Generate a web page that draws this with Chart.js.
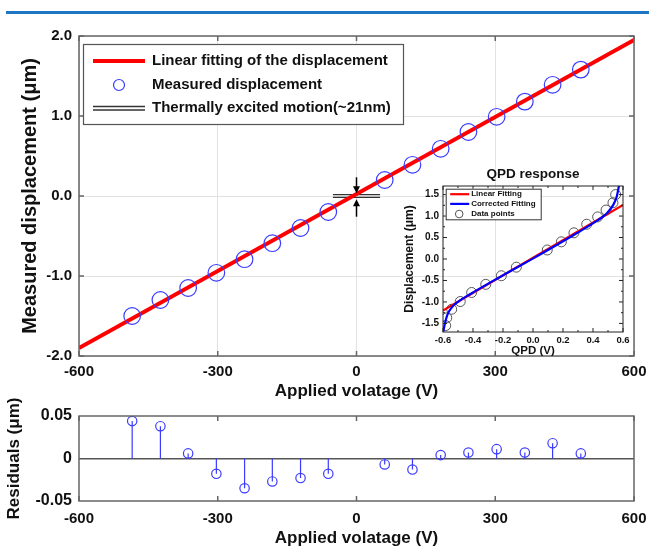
<!DOCTYPE html>
<html><head><meta charset="utf-8">
<script src="https://cdn.jsdelivr.net/npm/chart.js@4.4.1/dist/chart.umd.min.js"></script>
<style>
html,body{margin:0;padding:0;background:#fff;}
#wrap{position:relative;width:649px;height:547px;overflow:hidden;background:#fff;}
#hdr{position:absolute;left:6px;top:11px;width:643px;height:3px;background:#1f77c4;}
canvas{position:absolute;}
</style></head><body>
<div id="wrap">
<div id="hdr"></div>
<canvas id="main" width="649" height="400" style="left:0;top:0"></canvas>
<canvas id="resid" width="649" height="151" style="left:0;top:396px"></canvas>
<canvas id="inset" width="240" height="205" style="left:395px;top:160px"></canvas>
</div>
<script>
// ---------- data ----------
const voltage = [-485,-424,-364,-303,-242,-182,-121,-61,61,121,182,242,303,364,424,485];
const displacement = [-1.50,-1.30,-1.15,-0.96,-0.79,-0.59,-0.40,-0.20,0.20,0.39,0.59,0.80,0.99,1.18,1.39,1.58];
const fitVoltage = [-600, 600];
const fitDisplacement = [-1.90, 1.95];
const thermalX = [-51, 51];
const thermalLevels = [0.017, -0.017];
const arrowX = 0;
const arrowDown = [0.234, 0.034];
const arrowUp = [-0.259, -0.041];
const residuals = [0.044,0.038,0.006,-0.018,-0.035,-0.027,-0.023,-0.018,-0.007,-0.013,0.004,0.007,0.011,0.007,0.018,0.006];
const voltTicks = [-600,-300,0,300,600];
const dispTicks = [-2,-1,0,1,2];
const residTicks = [-0.05,0,0.05];
// inset
const qpdVolt = [-0.582,-0.575,-0.542,-0.485,-0.409,-0.315,-0.211,-0.111,0.095,0.189,0.273,0.358,0.431,0.487,0.533,0.551];
const qpdDisp = [-1.55,-1.37,-1.17,-0.99,-0.78,-0.59,-0.39,-0.19,0.21,0.40,0.61,0.81,0.98,1.14,1.31,1.50];
const linFitVolt = [-0.6, 0.6];
const linFitDisp = [-1.20, 1.26];
const corrVolt = [-0.598,-0.587,-0.571,-0.542,-0.498,-0.42,-0.287,0.002,0.291,0.435,0.491,0.535,0.558,0.574];
const corrDisp = [-1.69,-1.50,-1.30,-1.13,-0.99,-0.82,-0.55,0.015,0.60,0.91,1.06,1.26,1.45,1.72];
const qpdTicks = [-0.6,-0.4,-0.2,0,0.2,0.4,0.6];
const qpdMinor = [-0.5,-0.3,-0.1,0.1,0.3,0.5];
const insetDispTicks = [-1.5,-1.0,-0.5,0,0.5,1.0,1.5];
const insetDispMinor = [-1.25,-0.75,-0.25,0.25,0.75,1.25];

const FAM = "Arial, 'Liberation Sans', Helvetica, sans-serif";
const BLUE = '#3b3bff';
const pts = (xs, ys) => xs.map((v,i)=>({x:v, y:ys[i]}));

// ---------- plugins ----------
const framePlugin = {
  id:'frame',
  afterDatasetsDraw(chart, args, o){
    const {ctx, chartArea:a, scales:{x,y}} = chart;
    ctx.save();
    ctx.strokeStyle = o.color; ctx.lineWidth = o.width;
    const tick = (xv, yv, len) => {
      ctx.beginPath();
      (xv||[]).forEach(v=>{const p=x.getPixelForValue(v);
        ctx.moveTo(p,a.bottom); ctx.lineTo(p,a.bottom-len);
        ctx.moveTo(p,a.top); ctx.lineTo(p,a.top+len);});
      (yv||[]).forEach(v=>{const p=y.getPixelForValue(v);
        ctx.moveTo(a.left,p); ctx.lineTo(a.left+len,p);
        ctx.moveTo(a.right,p); ctx.lineTo(a.right-len,p);});
      ctx.stroke();
    };
    tick(o.xMajor, o.yMajor, o.len);
    if (o.xMinor || o.yMinor) tick(o.xMinor, o.yMinor, o.minorLen);
    ctx.strokeRect(a.left, a.top, a.right-a.left, a.bottom-a.top);
    ctx.restore();
  }
};

const mainDecor = {
  id:'mainDecor',
  afterDatasetsDraw(chart){
    const {ctx, scales:{x,y}} = chart;
    ctx.save();
    // arrows
    ctx.strokeStyle='#000'; ctx.fillStyle='#000'; ctx.lineWidth=1.5;
    const ax = x.getPixelForValue(arrowX);
    const arrow = (from, to) => {
      const y0 = y.getPixelForValue(from), y1 = y.getPixelForValue(to);
      const d = Math.sign(y1-y0);
      ctx.beginPath(); ctx.moveTo(ax,y0); ctx.lineTo(ax,y1-d*4); ctx.stroke();
      ctx.beginPath(); ctx.moveTo(ax,y1); ctx.lineTo(ax-3.5,y1-d*7); ctx.lineTo(ax+3.5,y1-d*7); ctx.closePath(); ctx.fill();
    };
    arrow(arrowDown[0], arrowDown[1]);
    arrow(arrowUp[0], arrowUp[1]);
    // legend
    ctx.fillStyle='#fff'; ctx.fillRect(83,44,320,80);
    ctx.strokeStyle='#555'; ctx.lineWidth=1.2; ctx.strokeRect(83.5,44.5,320,80);
    ctx.strokeStyle='#ff0000'; ctx.lineWidth=4;
    ctx.beginPath(); ctx.moveTo(93,61); ctx.lineTo(145,61); ctx.stroke();
    ctx.strokeStyle=BLUE; ctx.lineWidth=1.2;
    ctx.beginPath(); ctx.arc(119,85,5.5,0,Math.PI*2); ctx.stroke();
    ctx.strokeStyle='#333'; ctx.lineWidth=1.4;
    ctx.beginPath(); ctx.moveTo(93,106.5); ctx.lineTo(145,106.5); ctx.moveTo(93,110); ctx.lineTo(145,110); ctx.stroke();
    ctx.fillStyle='#111'; ctx.font='bold 15px '+FAM; ctx.textBaseline='middle'; ctx.textAlign='left';
    ctx.fillText('Linear fitting of the displacement',152,61);
    ctx.fillText('Measured displacement',152,85);
    ctx.fillText('Thermally excited motion(~21nm)',152,108);
    ctx.restore();
  }
};

const insetDecor = {
  id:'insetDecor',
  afterDraw(chart){
    const {ctx, chartArea:a} = chart;
    ctx.save();
    ctx.fillStyle='#111'; ctx.font='bold 13.5px '+FAM; ctx.textAlign='center'; ctx.textBaseline='middle';
    ctx.fillText('QPD response', (a.left+a.right)/2, a.top-12);
    const L = a.left+2.7, T = a.top+2.7;
    ctx.fillStyle='#fff'; ctx.fillRect(L,T,95,30.6);
    ctx.strokeStyle='#333'; ctx.lineWidth=1; ctx.strokeRect(L+0.5,T+0.5,95,30.6);
    ctx.lineWidth=2.2;
    ctx.strokeStyle='#ff0000'; ctx.beginPath(); ctx.moveTo(L+4.5,T+5.5); ctx.lineTo(L+23.5,T+5.5); ctx.stroke();
    ctx.strokeStyle='#0000ff'; ctx.beginPath(); ctx.moveTo(L+4.5,T+15.2); ctx.lineTo(L+23.5,T+15.2); ctx.stroke();
    ctx.strokeStyle='#555'; ctx.lineWidth=1; ctx.beginPath(); ctx.arc(L+13.5,T+25.3,3.8,0,Math.PI*2); ctx.stroke();
    ctx.fillStyle='#111'; ctx.font='bold 8px '+FAM; ctx.textAlign='left';
    ctx.fillText('Linear Fitting', L+25.5, T+5.5);
    ctx.fillText('Corrected Fitting', L+25.5, T+15.2);
    ctx.fillText('Data points', L+25.5, T+25.3);
    ctx.restore();
  }
};

const setTicks = arr => s => { s.ticks = arr.map(v=>({value:v})); };
const fitX = h => s => { s.height = h; s.paddingLeft = 0; s.paddingRight = 0; };
const noInteract = {responsive:false, animation:false, events:[]};

// ---------- main chart ----------
new Chart(document.getElementById('main'), {
  type:'scatter',
  data:{datasets:[
    {label:'Measured displacement', data: pts(voltage, displacement), pointRadius:8.3, pointBorderColor:BLUE, pointBackgroundColor:'rgba(0,0,0,0)', pointBorderWidth:1.2, showLine:false},
    {type:'line', label:'Linear fitting of the displacement', data: pts(fitVoltage, fitDisplacement), borderColor:'#ff0000', borderWidth:4, pointRadius:0, fill:false},
    {type:'line', label:'Thermal upper', data: thermalX.map(v=>({x:v,y:thermalLevels[0]})), borderColor:'#333', borderWidth:1.4, pointRadius:0, fill:false},
    {type:'line', label:'Thermal lower', data: thermalX.map(v=>({x:v,y:thermalLevels[1]})), borderColor:'#333', borderWidth:1.4, pointRadius:0, fill:false}
  ]},
  options:{...noInteract,
    layout:{padding:{left:0,right:15,top:36,bottom:0}},
    plugins:{legend:{display:false}, tooltip:{enabled:false},
      frame:{color:'#666', width:1.5, xMajor:voltTicks, yMajor:dispTicks, len:5}},
    scales:{
      x:{type:'linear', min:-600, max:600, afterBuildTicks:setTicks(voltTicks), afterFit:fitX(44),
         grid:{color:'#e2e2e2', lineWidth:1, drawTicks:false}, border:{display:false},
         ticks:{color:'#111', padding:7, maxRotation:0, autoSkip:false, font:{family:FAM, size:15, weight:'bold'}},
         title:{display:true, text:'Applied volatage (V)', color:'#111', padding:{top:0,bottom:0}, font:{family:FAM, size:17, weight:'bold', lineHeight:1}}},
      y:{type:'linear', min:-2, max:2, afterBuildTicks:setTicks(dispTicks), afterFit:s=>{s.width=79;},
         grid:{color:'#e2e2e2', lineWidth:1, drawTicks:false}, border:{display:false},
         ticks:{color:'#111', padding:7, autoSkip:false, font:{family:FAM, size:15, weight:'bold'}, callback:v=>v.toFixed(1)},
         title:{display:true, text:'Measured displacement (μm)', color:'#111', padding:{top:18,bottom:0}, font:{family:FAM, size:20, weight:'bold', lineHeight:1.2}}}
    }
  },
  plugins:[framePlugin, mainDecor]
});

// ---------- residual chart ----------
const stemData = [];
voltage.forEach((v,i)=>{ stemData.push({x:v,y:0},{x:v,y:residuals[i]},{x:v,y:null}); });
new Chart(document.getElementById('resid'), {
  type:'scatter',
  data:{datasets:[
    {label:'Residuals', data: pts(voltage, residuals), pointRadius:4.7, pointBorderColor:BLUE, pointBackgroundColor:'rgba(0,0,0,0)', pointBorderWidth:1.2, showLine:false},
    {type:'line', label:'stems', data: stemData, borderColor:BLUE, borderWidth:1.2, pointRadius:0, spanGaps:false, fill:false}
  ]},
  options:{...noInteract,
    layout:{padding:{left:0,right:15,top:20,bottom:0}},
    plugins:{legend:{display:false}, tooltip:{enabled:false},
      frame:{color:'#666', width:1.5, xMajor:voltTicks, yMajor:[], len:5}},
    scales:{
      x:{type:'linear', min:-600, max:600, afterBuildTicks:setTicks(voltTicks), afterFit:fitX(46),
         grid:{display:false, drawTicks:false}, border:{display:false},
         ticks:{color:'#111', padding:9, maxRotation:0, autoSkip:false, font:{family:FAM, size:15, weight:'bold'}},
         title:{display:true, text:'Applied volatage (V)', color:'#111', padding:{top:0,bottom:0.5}, font:{family:FAM, size:17, weight:'bold', lineHeight:1}}},
      y:{type:'linear', min:-0.05, max:0.05, afterBuildTicks:setTicks(residTicks), afterFit:s=>{s.width=79;},
         grid:{color:ctx=>ctx.tick && ctx.tick.value===0 ? '#555' : 'rgba(0,0,0,0)', lineWidth:1.5, drawTicks:false}, border:{display:false},
         ticks:{color:'#111', padding:7, autoSkip:false, font:{family:FAM, size:16, weight:'bold'}, callback:v=>v===0?'0':v.toFixed(2)},
         title:{display:true, text:'Residuals (μm)', color:'#111', padding:{top:4,bottom:0}, font:{family:FAM, size:17, weight:'bold', lineHeight:1.2}}}
    }
  },
  plugins:[framePlugin]
});

// ---------- inset chart ----------
new Chart(document.getElementById('inset'), {
  type:'scatter',
  data:{datasets:[
    {type:'line', label:'Corrected Fitting', data: pts(corrVolt, corrDisp), borderColor:'#0000ff', borderWidth:2.2, pointRadius:0, cubicInterpolationMode:'monotone', fill:false},
    {type:'line', label:'Linear Fitting', data: pts(linFitVolt, linFitDisp), borderColor:'#ff0000', borderWidth:2.2, pointRadius:0, fill:false},
    {label:'Data points', data: pts(qpdVolt, qpdDisp), pointRadius:5, pointBorderColor:'#555', pointBackgroundColor:'rgba(0,0,0,0)', pointBorderWidth:1, showLine:false}
  ]},
  options:{...noInteract,
    layout:{padding:{left:0,right:12,top:26,bottom:0}},
    plugins:{legend:{display:false}, tooltip:{enabled:false},
      frame:{color:'#222', width:1, xMajor:qpdTicks, yMajor:insetDispTicks, len:4, xMinor:qpdMinor, yMinor:insetDispMinor, minorLen:2}},
    scales:{
      x:{type:'linear', min:-0.6, max:0.6, afterBuildTicks:setTicks(qpdTicks), afterFit:fitX(33),
         grid:{display:false, drawTicks:false}, border:{display:false},
         ticks:{color:'#111', padding:3, maxRotation:0, autoSkip:false, font:{family:FAM, size:9.5, weight:'bold'}, callback:v=>v.toFixed(1)},
         title:{display:true, text:'QPD (V)', color:'#111', padding:{top:0,bottom:8}, font:{family:FAM, size:11.5, weight:'bold', lineHeight:1}}},
      y:{type:'linear', min:-1.7, max:1.7, afterBuildTicks:setTicks(insetDispTicks), afterFit:s=>{s.width=48;},
         grid:{display:false, drawTicks:false}, border:{display:false},
         ticks:{color:'#111', padding:4, autoSkip:false, font:{family:FAM, size:10, weight:'bold'}, callback:v=>v.toFixed(1)},
         title:{display:true, text:'Displacement (μm)', color:'#111', padding:{top:7,bottom:0}, font:{family:FAM, size:12, weight:'bold', lineHeight:1.2}}}
    }
  },
  plugins:[framePlugin, insetDecor]
});
</script>
</body></html>
